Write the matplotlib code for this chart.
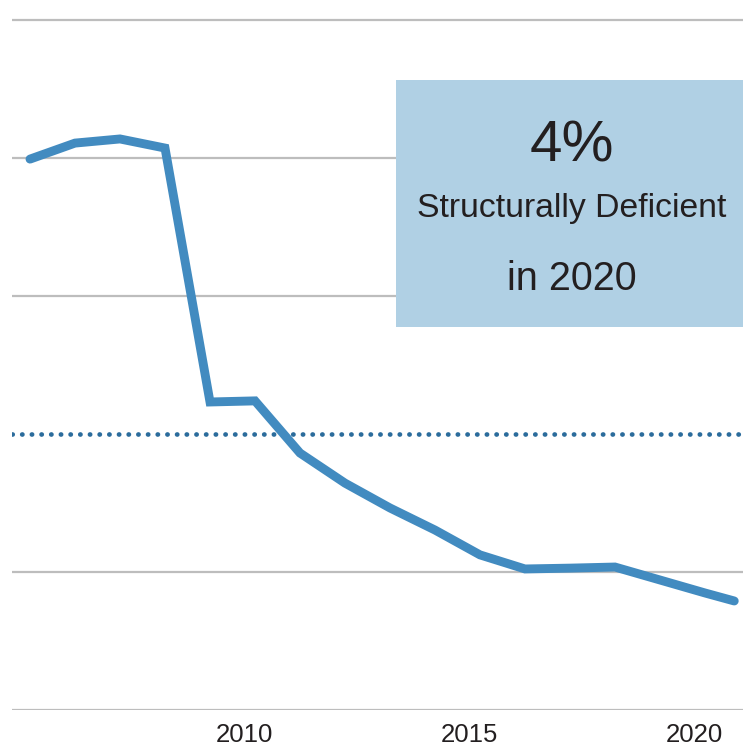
import matplotlib
matplotlib.use("Agg")
import matplotlib.pyplot as plt
from matplotlib.patches import Rectangle

# Data (percent structurally deficient)
years = [2005, 2006, 2007, 2008, 2009, 2010, 2011, 2012, 2013, 2014,
         2015, 2016, 2017, 2018, 2019, 2020, 2020.65]
pct = [19.96, 20.54, 20.69, 20.36, 11.16, 11.2, 9.31, 8.22, 7.32, 6.52,
       5.62, 5.11, 5.14, 5.18, 4.71, 4.24, 3.95]
grid_vals = [0, 5, 15, 20, 25]
ref_val = 10
tick_years = [2010, 2015, 2020]
tick_labels = ["2010", "2015", "2020"]
tick_shift = -0.24

W, H = 743, 751
fig = plt.figure(figsize=(W / 100, H / 100), dpi=100)
left_px, right_px, bot_px, top_px = 12, 743, 710, 15
ax = fig.add_axes([left_px / W, 1 - bot_px / H, (right_px - left_px) / W, (bot_px - top_px) / H])

px_per_year = 45.0
x0 = years[0] - (30 - left_px) / px_per_year
x1 = x0 + (right_px - left_px) / px_per_year
ax.set_xlim(x0, x1)
px_per_unit = 138 / 5
ax.set_ylim(0, (bot_px - top_px) / px_per_unit)

for v in grid_vals:
    ax.axhline(v, color="#bdbdbd", lw=1.6, zorder=1)
ax.axhline(ref_val, color="#2b6c9c", lw=3.4, linestyle=(0, (0.05, 2.0)),
           dash_capstyle="round", zorder=2)

ax.plot(years, pct, color="#428bc0", lw=6.4, solid_capstyle="round",
        solid_joinstyle="miter", zorder=3)

# annotation box (axes-fraction coords)
def fx(px):
    return (px - left_px) / (right_px - left_px)

def fy(py):
    return (bot_px - py) / (bot_px - top_px)

ax.add_patch(Rectangle((fx(396), fy(327)), fx(743) - fx(396), fy(80) - fy(327),
                       transform=ax.transAxes, facecolor="#b0d0e4", edgecolor="none",
                       zorder=4, clip_on=False))
fam = ["Liberation Sans", "DejaVu Sans"]
cx = fx(572)
ax.text(cx, fy(146), "4%", transform=ax.transAxes, ha="center", va="center",
        fontsize=42, color="#231f20", family=fam, zorder=5)
ax.text(cx, fy(208), "Structurally Deficient", transform=ax.transAxes, ha="center", va="center",
        fontsize=24.3, color="#231f20", family=fam, zorder=5)
ax.text(cx, fy(279), "in 2020", transform=ax.transAxes, ha="center", va="center",
        fontsize=28.5, color="#231f20", family=fam, zorder=5)

ax.set_xticks([t + tick_shift for t in tick_years])
ax.set_xticklabels(tick_labels, fontsize=18.5, color="#231f20", family=fam)
ax.tick_params(axis="x", length=0, pad=9)
ax.set_yticks([])
for s in ax.spines.values():
    s.set_visible(False)

fig.savefig("out.png", dpi=100)
